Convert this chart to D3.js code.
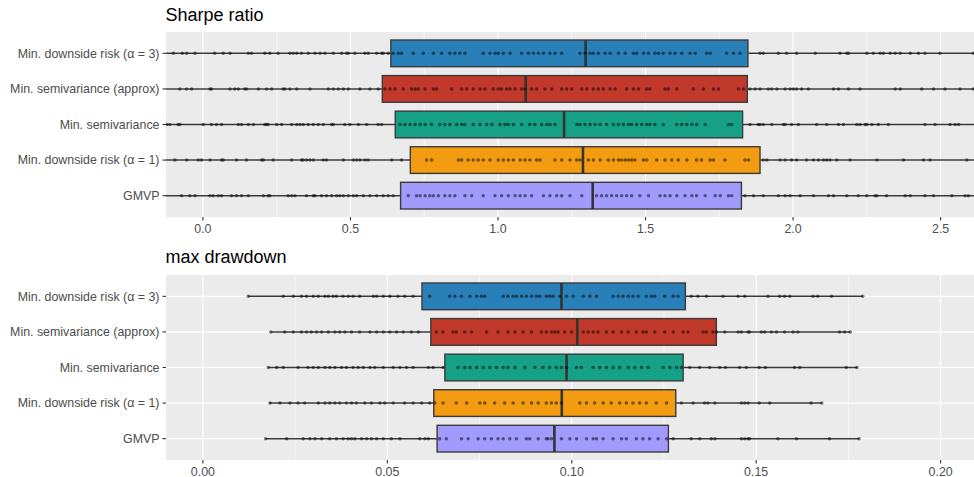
<!DOCTYPE html>
<html>
<head>
<meta charset="utf-8">
<script src="https://cdn.jsdelivr.net/npm/d3@7"></script>
<style>
  body { margin: 0; background: #fff; }
  svg { display: block; font-family: "Liberation Sans", Arial, Helvetica, sans-serif; }
</style>
</head>
<body>
<svg id="chart" width="974" height="477"></svg>
<script>
'use strict';

// categories, top to bottom
const methods = [
  'Min. downside risk (α = 3)',
  'Min. semivariance (approx)',
  'Min. semivariance',
  'Min. downside risk (α = 1)',
  'GMVP'
];
const boxColors = ['#2980B9', '#C0392B', '#16A085', '#F39C12', '#A29BFE'];

// Sharpe ratio box stats
const sharpeLo = [-0.35, -0.35, -0.35, -0.35, -0.35];
const sharpeQ1 = [0.637, 0.608, 0.652, 0.703, 0.670];
const sharpeMed = [1.297, 1.094, 1.224, 1.288, 1.321];
const sharpeQ3 = [1.847, 1.845, 1.829, 1.888, 1.825];
const sharpeHi = [2.9, 2.9, 2.9, 2.9, 2.9];
const sharpeTicks = [0, 0.5, 1, 1.5, 2, 2.5];

// max drawdown box stats
const ddLo = [0.0123, 0.0184, 0.0177, 0.0180, 0.0170];
const ddQ1 = [0.0594, 0.0618, 0.0656, 0.0626, 0.0635];
const ddMed = [0.0972, 0.1015, 0.0986, 0.0973, 0.0953];
const ddQ3 = [0.1308, 0.1392, 0.1302, 0.1282, 0.1262];
const ddHi = [0.1789, 0.1755, 0.1774, 0.1678, 0.1779];
const ddTicks = [0, 0.05, 0.1, 0.15, 0.2];

const sharpeDr3 = [-0.10, -0.07, -0.055, -0.027, 0.04, 0.069, 0.092, 0.154, 0.165, 0.21, 0.227, 0.255, 0.295, 0.306, 0.318, 0.334, 0.357, 0.38, 0.397, 0.414, 0.442, 0.47, 0.487, 0.493, 0.515, 0.549, 0.56, 0.589, 0.606,
  0.611, 0.628, 0.645, 0.662, 0.673, 0.713, 0.747, 0.781, 0.809, 0.837, 0.854, 0.871, 0.888, 0.950, 0.973, 0.990, 1.001, 1.018, 1.041, 1.080, 1.103, 1.120, 1.137, 1.154, 1.176, 1.193, 1.216, 1.278, 1.295, 1.312, 1.323, 1.340, 1.363, 1.380, 1.408, 1.431, 1.459, 1.470, 1.493, 1.510, 1.532, 1.544, 1.560, 1.583, 1.600, 1.623, 1.651, 1.668, 1.707, 1.719, 1.775, 1.798, 1.820,
  1.888, 1.899, 1.950, 1.978, 2.012, 2.075, 2.159, 2.182, 2.188, 2.250, 2.272, 2.295, 2.306, 2.329, 2.346, 2.363, 2.397, 2.425, 2.447, 2.498, 2.611];
const sharpeSvApprox = [-0.078, -0.055, -0.038, 0.024, 0.029, 0.092, 0.108, 0.120, 0.142, 0.148, 0.188, 0.216, 0.233, 0.272, 0.278, 0.295, 0.318, 0.363, 0.425, 0.442, 0.459, 0.476, 0.493, 0.532, 0.566, 0.594,
  0.617, 0.634, 0.651, 0.679, 0.707, 0.719, 0.730, 0.753, 0.781, 0.792, 0.843, 0.877, 0.894, 0.916, 0.939, 0.956, 0.984, 1.001, 1.012, 1.029, 1.041, 1.058, 1.080, 1.092, 1.114, 1.131, 1.159, 1.182, 1.216, 1.233, 1.250, 1.284, 1.301, 1.323, 1.340, 1.357, 1.380, 1.397, 1.436, 1.459, 1.476, 1.504, 1.515, 1.566, 1.577, 1.606, 1.662, 1.696, 1.730, 1.747, 1.815, 1.832,
  1.854, 1.871, 1.888, 1.916, 1.928, 1.945, 1.973, 1.990, 2.001, 2.012, 2.029, 2.052, 2.137, 2.154, 2.188, 2.227, 2.346, 2.363, 2.436, 2.476, 2.515, 2.566, 2.611];
const sharpeSv = [-0.123, -0.112, -0.084, -0.078, 0.001, 0.029, 0.046, 0.063, 0.120, 0.131, 0.154, 0.171, 0.210, 0.216, 0.221, 0.250, 0.267, 0.301, 0.318, 0.329, 0.340, 0.357, 0.374, 0.391, 0.408, 0.436, 0.442, 0.481, 0.498, 0.527, 0.555, 0.594,
  0.606, 0.668, 0.685, 0.702, 0.719, 0.736, 0.753, 0.775, 0.803, 0.820, 0.837, 0.860, 0.877, 0.888, 0.916, 0.939, 0.962, 0.979, 1.007, 1.024, 1.035, 1.052, 1.080, 1.108, 1.125, 1.148, 1.165, 1.176, 1.193, 1.267, 1.278, 1.295, 1.312, 1.329, 1.346, 1.368, 1.391, 1.408, 1.425, 1.442, 1.453, 1.470, 1.487, 1.504, 1.515, 1.532, 1.560, 1.606, 1.623, 1.640, 1.657, 1.673, 1.702, 1.781, 1.792,
  1.854, 1.882, 1.888, 1.899, 1.928, 1.967, 1.973, 1.995, 2.018, 2.080, 2.114, 2.154, 2.171, 2.216, 2.227, 2.244, 2.250, 2.267, 2.289, 2.323, 2.447, 2.481, 2.532, 2.549, 2.561];
const sharpeDr1 = [-0.095, -0.055, -0.016, -0.005, 0.024, 0.063, 0.069, 0.114, 0.148, 0.199, 0.205, 0.238, 0.301, 0.334, 0.340, 0.351, 0.363, 0.374, 0.408, 0.419, 0.476, 0.510, 0.521, 0.532, 0.549, 0.560,
  0.640, 0.673, 0.758, 0.775, 0.866, 0.877, 0.899, 0.916, 0.933, 0.950, 0.973, 1.001, 1.018, 1.035, 1.052, 1.075, 1.092, 1.108, 1.131, 1.142, 1.193, 1.216, 1.244, 1.267, 1.278, 1.306, 1.323, 1.346, 1.374, 1.391, 1.408, 1.419, 1.431, 1.442, 1.453, 1.464, 1.493, 1.504, 1.538, 1.566, 1.589, 1.611, 1.640, 1.673, 1.690, 1.719, 1.730, 1.769, 1.837, 1.849,
  1.899, 1.911, 1.956, 1.973, 1.995, 2.012, 2.046, 2.069, 2.086, 2.103, 2.114, 2.125, 2.148, 2.193, 2.284, 2.374, 2.442, 2.464, 2.589];
const sharpeGmvp = [-0.072, -0.044, -0.027, 0.024, 0.035, 0.052, 0.063, 0.097, 0.114, 0.131, 0.154, 0.205, 0.221, 0.227, 0.289, 0.301, 0.312, 0.351, 0.374, 0.380, 0.402, 0.419, 0.436, 0.453, 0.464, 0.476, 0.493, 0.510, 0.521, 0.544, 0.566, 0.589,
  0.611, 0.628, 0.645, 0.696, 0.724, 0.736, 0.753, 0.769, 0.781, 0.798, 0.820, 0.837, 0.854, 0.888, 0.911, 0.950, 0.990, 1.012, 1.035, 1.058, 1.075, 1.092, 1.114, 1.154, 1.176, 1.199, 1.216, 1.244, 1.284, 1.334, 1.351, 1.368, 1.385, 1.402, 1.419, 1.436, 1.453, 1.481, 1.510, 1.549, 1.566, 1.583, 1.606, 1.634, 1.657, 1.673, 1.702, 1.736, 1.753, 1.781, 1.792,
  1.837, 1.866, 1.899, 1.950, 1.973, 1.990, 2.024, 2.069, 2.120, 2.137, 2.182, 2.221, 2.250, 2.278, 2.284, 2.317, 2.380, 2.397, 2.447, 2.476, 2.538, 2.583, 2.594];

const ddDr3 = [0.0123, 0.0218, 0.0245, 0.0267, 0.0281, 0.0299, 0.0313, 0.0331, 0.0340, 0.0353, 0.0362, 0.0380, 0.0394, 0.0407, 0.0425, 0.0462, 0.0471,
  0.0489, 0.0507, 0.0529, 0.0547, 0.0570, 0.0615, 0.0669, 0.0683, 0.0701, 0.0724, 0.0742, 0.0755, 0.0764, 0.0814, 0.0827, 0.0841, 0.0850, 0.0864, 0.0877, 0.0891, 0.0904, 0.0913, 0.0931, 0.0940, 0.0949, 0.0967, 0.0986, 0.1004, 0.1031, 0.1049, 0.1067, 0.1112, 0.1126, 0.1139, 0.1153, 0.1166, 0.1180, 0.1202, 0.1216, 0.1225, 0.1252, 0.1275, 0.1288, 0.1324, 0.1342,
  0.1365, 0.1410, 0.1451, 0.1469, 0.1532, 0.1564, 0.1577, 0.1591, 0.1654, 0.1667, 0.1704, 0.1789];
const ddSvApprox = [0.0184, 0.0222, 0.0245, 0.0267, 0.0281, 0.0294, 0.0308, 0.0322, 0.0340, 0.0358, 0.0371, 0.0385, 0.0403, 0.0425, 0.0453, 0.0471,
  0.0489, 0.0507, 0.0525, 0.0543, 0.0565, 0.0584, 0.0633, 0.0651, 0.0678, 0.0687, 0.0710, 0.0728, 0.0769, 0.0800, 0.0827, 0.0846, 0.0868, 0.0891, 0.0918, 0.0931, 0.0945, 0.0954, 0.0963, 0.0981, 0.0999, 0.1031, 0.1044, 0.1058, 0.1071, 0.1094, 0.1112, 0.1135, 0.1153, 0.1175, 0.1193, 0.1202, 0.1225, 0.1252, 0.1275, 0.1302, 0.1315,
  0.1356, 0.1365, 0.1383, 0.1392, 0.1415, 0.1451, 0.1460, 0.1478, 0.1482, 0.1514, 0.1523, 0.1541, 0.1555, 0.1577, 0.1600, 0.1613, 0.1726, 0.1740, 0.1755];
const ddSv = [0.0177, 0.0200, 0.0218, 0.0258, 0.0285, 0.0299, 0.0313, 0.0331, 0.0344, 0.0358, 0.0376, 0.0389, 0.0407, 0.0421, 0.0435, 0.0453, 0.0466,
  0.0489, 0.0516, 0.0534, 0.0552, 0.0570, 0.0611, 0.0624, 0.0651, 0.0692, 0.0710, 0.0724, 0.0742, 0.0760, 0.0778, 0.0796, 0.0814, 0.0827, 0.0846, 0.0873, 0.0900, 0.0922, 0.0940, 0.0958, 0.0972, 0.0986, 0.1013, 0.1026, 0.1058, 0.1076, 0.1094, 0.1112, 0.1130, 0.1153, 0.1171, 0.1189, 0.1207, 0.1248, 0.1266, 0.1284, 0.1297, 0.1320,
  0.1347, 0.1374, 0.1401, 0.1417, 0.1455, 0.1473, 0.1508, 0.1525, 0.1604, 0.1618, 0.1744, 0.1773];
const ddDr1 = [0.0182, 0.0209, 0.0236, 0.0258, 0.0276, 0.0313, 0.0331, 0.0344, 0.0358, 0.0371, 0.0389, 0.0403, 0.0416, 0.0439, 0.0457, 0.0480,
  0.0493, 0.0516, 0.0547, 0.0570, 0.0593, 0.0615, 0.0629, 0.0651, 0.0687, 0.0715, 0.0751, 0.0764, 0.0791, 0.0818, 0.0841, 0.0868, 0.0891, 0.0909, 0.0931, 0.0945, 0.0958, 0.0972, 0.1022, 0.1040, 0.1062, 0.1085, 0.1107, 0.1130, 0.1148, 0.1166, 0.1184, 0.1202, 0.1229, 0.1257, 0.1297, 0.1329,
  0.1360, 0.1369, 0.1388, 0.1460, 0.1469, 0.1478, 0.1508, 0.1537, 0.1649, 0.1678];
const ddGmvp = [0.0170, 0.0227, 0.0272, 0.0290, 0.0304, 0.0322, 0.0344, 0.0362, 0.0380, 0.0394, 0.0403, 0.0412, 0.0430, 0.0444, 0.0457, 0.0471,
  0.0489, 0.0511, 0.0534, 0.0588, 0.0602, 0.0611, 0.0642, 0.0660, 0.0701, 0.0719, 0.0746, 0.0764, 0.0782, 0.0800, 0.0814, 0.0832, 0.0850, 0.0877, 0.0886, 0.0909, 0.0931, 0.0936, 0.0945, 0.0972, 0.0995, 0.1013, 0.1040, 0.1058, 0.1067, 0.1085, 0.1112, 0.1135, 0.1148, 0.1175, 0.1193, 0.1211, 0.1234, 0.1257, 0.1275, 0.1324,
  0.1347, 0.1378, 0.1388, 0.1460, 0.1469, 0.1478, 0.1482, 0.1559, 0.1609, 0.1699, 0.1779];

const svg = d3.select('#chart');
const panelLeft = 166;
const panelRight = 977.5;

function drawPanel(opt) {
  const { id, title, titleY, top, bottom, domain, ticks, fmt, lo, q1, med, q3, hi, points } = opt;

  const x = d3.scaleLinear().domain(domain).range([panelLeft, panelRight]);
  const y = d3.scalePoint().domain(methods).range([top, bottom]).padding(0.6);
  const step = y.step();

  const g = svg.append('g');

  g.append('text')
    .attr('x', panelLeft - 0.5)
    .attr('y', titleY)
    .attr('font-size', 18)
    .attr('fill', '#000')
    .text(title);

  g.append('rect')
    .attr('x', panelLeft).attr('y', top)
    .attr('width', panelRight - panelLeft).attr('height', bottom - top)
    .attr('fill', '#EBEBEB');

  g.append('clipPath').attr('id', id)
    .append('rect')
    .attr('x', panelLeft).attr('y', top)
    .attr('width', panelRight - panelLeft).attr('height', bottom - top);

  const inner = g.append('g').attr('clip-path', `url(#${id})`);

  // minor grid at midpoints between major ticks
  const tickStep = ticks[1] - ticks[0];
  const minor = [ticks[0] - tickStep / 2].concat(ticks.map((t) => t + tickStep / 2));
  inner.selectAll('line.minor')
    .data(minor)
    .join('line')
    .attr('x1', (d) => x(d)).attr('x2', (d) => x(d))
    .attr('y1', top).attr('y2', bottom)
    .attr('stroke', '#fff').attr('stroke-width', 0.55);

  inner.selectAll('line.major')
    .data(ticks)
    .join('line')
    .attr('x1', (d) => x(d)).attr('x2', (d) => x(d))
    .attr('y1', top).attr('y2', bottom)
    .attr('stroke', '#fff').attr('stroke-width', 1.1);

  inner.selectAll('line.hgrid')
    .data(methods)
    .join('line')
    .attr('x1', panelLeft).attr('x2', panelRight)
    .attr('y1', (d) => y(d)).attr('y2', (d) => y(d))
    .attr('stroke', '#fff').attr('stroke-width', 1.1);

  const half = step * 0.375;

  methods.forEach((m, i) => {
    const cy = y(m);
    const row = inner.append('g');

    // whiskers
    row.append('line')
      .attr('x1', x(lo[i])).attr('x2', x(q1[i]))
      .attr('y1', cy).attr('y2', cy)
      .attr('stroke', '#3a3a3a').attr('stroke-width', 1.5);
    row.append('line')
      .attr('x1', x(q3[i])).attr('x2', x(hi[i]))
      .attr('y1', cy).attr('y2', cy)
      .attr('stroke', '#3a3a3a').attr('stroke-width', 1.5);

    row.append('rect')
      .attr('x', x(q1[i])).attr('y', cy - half)
      .attr('width', x(q3[i]) - x(q1[i])).attr('height', half * 2)
      .attr('fill', boxColors[i])
      .attr('stroke', '#3a3a3a').attr('stroke-width', 1.4);

    row.append('line')
      .attr('x1', x(med[i])).attr('x2', x(med[i]))
      .attr('y1', cy - half).attr('y2', cy + half)
      .attr('stroke', '#333').attr('stroke-width', 2.6);

    row.selectAll('circle')
      .data(points[i])
      .join('circle')
      .attr('cx', (d) => x(d))
      .attr('cy', cy)
      .attr('r', 1.75)
      .attr('fill', '#000')
      .attr('fill-opacity', 0.5);
  });

  // y axis
  const yAxis = g.append('g');
  methods.forEach((m) => {
    yAxis.append('line')
      .attr('x1', panelLeft - 3.5).attr('x2', panelLeft)
      .attr('y1', y(m)).attr('y2', y(m))
      .attr('stroke', '#333').attr('stroke-width', 1.1);
    yAxis.append('text')
      .attr('x', panelLeft - 6.5)
      .attr('y', y(m))
      .attr('dy', '0.35em')
      .attr('text-anchor', 'end')
      .attr('font-size', 12.4)
      .attr('fill', '#4D4D4D')
      .text(m);
  });

  // x axis
  const xAxis = g.append('g');
  ticks.forEach((t) => {
    xAxis.append('line')
      .attr('x1', x(t)).attr('x2', x(t))
      .attr('y1', bottom).attr('y2', bottom + 3.5)
      .attr('stroke', '#333').attr('stroke-width', 1.1);
    xAxis.append('text')
      .attr('x', x(t))
      .attr('y', bottom + 15.5)
      .attr('text-anchor', 'middle')
      .attr('font-size', 12.4)
      .attr('fill', '#4D4D4D')
      .text(fmt(t));
  });
}

drawPanel({
  id: 'clip-sharpe',
  title: 'Sharpe ratio',
  titleY: 21,
  top: 32,
  bottom: 217,
  domain: [-0.125, 2.625],
  ticks: sharpeTicks,
  fmt: d3.format('.1f'),
  lo: sharpeLo, q1: sharpeQ1, med: sharpeMed, q3: sharpeQ3, hi: sharpeHi,
  points: [sharpeDr3, sharpeSvApprox, sharpeSv, sharpeDr1, sharpeGmvp]
});

drawPanel({
  id: 'clip-dd',
  title: 'max drawdown',
  titleY: 262.5,
  top: 275,
  bottom: 460,
  domain: [-0.01, 0.21],
  ticks: ddTicks,
  fmt: d3.format('.2f'),
  lo: ddLo, q1: ddQ1, med: ddMed, q3: ddQ3, hi: ddHi,
  points: [ddDr3, ddSvApprox, ddSv, ddDr1, ddGmvp]
});
</script>
</body>
</html>
